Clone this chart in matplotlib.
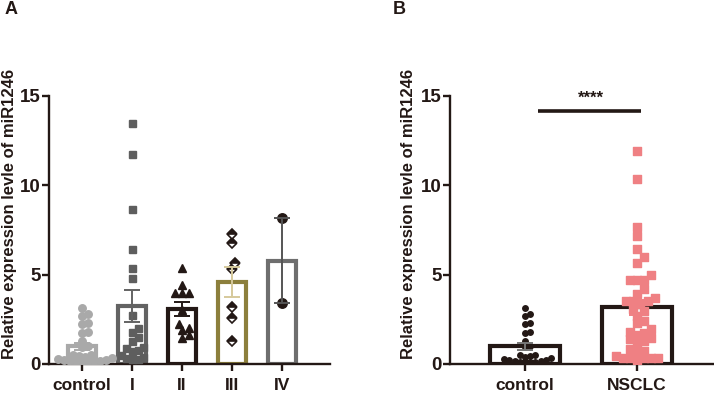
import numpy as np
import matplotlib
matplotlib.use("Agg")
import matplotlib.pyplot as plt
from matplotlib.markers import MarkerStyle

plt.rcParams["font.family"] = ["Liberation Sans", "DejaVu Sans"]
plt.rcParams["font.weight"] = "bold"

# =========================
# Data
# =========================
stage_labels = ["control", "I", "II", "III", "IV"]

control_vals = [3.16, 2.8, 2.7, 2.3, 2.25, 1.8, 1.75, 1.3, 1.0, 0.95,
                0.5, 0.5, 0.45, 0.4, 0.35, 0.3, 0.25, 0.2,
                0.15, 0.15, 0.12, 0.1, 0.1, 0.1]
stage1_vals = [13.47, 11.73, 8.66, 6.43, 5.35, 4.79, 2.74, 2.0, 1.8, 1.5,
               1.3, 0.95, 0.9, 0.8, 0.7, 0.5, 0.4, 0.35, 0.3, 0.3]
stage2_vals = [5.35, 4.4, 4.0, 4.0, 4.0, 3.0, 2.25, 2.0, 1.9, 1.6, 1.45]
stage3_vals = [7.26, 6.75, 5.63, 5.32, 3.17, 2.56, 1.31]
stage4_vals = [8.16, 3.41]

b_labels = ["control", "NSCLC"]
nsclc_vals = [11.9, 10.37, 7.66, 7.19, 6.45, 5.99, 5.67, 4.98, 4.7, 4.7, 4.7,
              4.22, 3.94, 3.72, 3.53, 3.53, 3.53, 3.35, 3.07, 2.97, 2.7, 2.42,
              2.29, 1.95, 1.8, 1.73, 1.62, 1.45, 1.39, 1.3, 1.12, 0.84, 0.74,
              0.65, 0.46, 0.32, 0.32, 0.32, 0.32, 0.32, 0.24]

DARK = "#231815"
PX = 100 / 72.0  # pixels per point at dpi 100


def mean_sem(v):
    v = np.asarray(v, dtype=float)
    return v.mean(), v.std(ddof=1) / np.sqrt(len(v))


def swarm(vals, center, xscale, yscale, d):
    # simple beeswarm: place points bottom-up, nearest free slot to center
    vals = np.asarray(vals, dtype=float)
    xs = np.zeros(len(vals))
    placed = []
    for i in np.argsort(vals):
        y = vals[i] * yscale
        off = None
        k = 0
        while off is None:
            for s in ([0] if k == 0 else [k, -k]):
                x = s * d * 0.5
                if all((x - px) ** 2 + (y - py) ** 2 >= d * d for px, py in placed):
                    off = x
                    break
            k += 1
        placed.append((off, y))
        xs[i] = center + off / xscale
    return xs


def style_axes(ax, labels):
    for s in ["top", "right"]:
        ax.spines[s].set_visible(False)
    for s in ["left", "bottom"]:
        ax.spines[s].set_linewidth(1.7)
        ax.spines[s].set_color(DARK)
    ax.set_ylim(0, 15)
    ax.set_yticks([0, 5, 10, 15])
    ax.set_xticks(range(len(labels)))
    ax.set_xticklabels(labels)
    ax.tick_params(axis="both", length=5, width=1.7, color=DARK,
                   labelcolor=DARK)
    ax.tick_params(axis="y", labelsize=13.5, pad=1)
    ax.tick_params(axis="x", labelsize=12.5, pad=5)
    for t in ax.get_xticklabels() + ax.get_yticklabels():
        t.set_fontweight("bold")


fig = plt.figure(figsize=(7.14, 3.94), dpi=100)

# =========================
# Panel A
# =========================
axA = fig.add_axes([49 / 714, 30 / 394, 281 / 714, 268 / 394])
axA.set_xlim(-0.66, 4.96)
style_axes(axA, stage_labels)

xsA = 281 / 5.62
ys = 268 / 15.0

groups_A = [
    dict(v=control_vals, bar="#a9a9a9", err="#a9a9a9", pc="#a9a9a9", mk="o", ms=7.5, kw={}),
    dict(v=stage1_vals, bar="#636363", err="#636363", pc="#5e5e5e", mk="s", ms=7, kw={}),
    dict(v=stage2_vals, bar=DARK, err=DARK, pc=DARK, mk="^", ms=8.5, kw={}),
    dict(v=stage3_vals, bar="#8c7f3c", err="#d6c99b", pc=DARK, mk="D", ms=7.5,
         kw=dict(fillstyle="top", markerfacecoloralt="white", markeredgewidth=1.2)),
    dict(v=stage4_vals, bar="#6e6e6e", err="#555555", pc=DARK, mk="o", ms=9.5, kw={}),
]

for i, g in enumerate(groups_A):
    m, se = mean_sem(g["v"])
    axA.bar(i, m, width=0.56, facecolor="none", edgecolor=g["bar"], linewidth=3.0, zorder=2)
    xs = swarm(g["v"], i, xsA, ys, g["ms"] * 0.8)
    axA.plot(xs, g["v"], linestyle="none", marker=g["mk"], markersize=g["ms"] / PX,
             color=g["pc"], markeredgecolor=g["pc"], zorder=3, **g["kw"])
    axA.errorbar(i, m, yerr=se, color=g["err"], capsize=6, elinewidth=1.4,
                 capthick=1.4, zorder=4)

# =========================
# Panel B
# =========================
axB = fig.add_axes([450 / 714, 30 / 394, 263 / 714, 268 / 394])
axB.set_xlim(-0.67, 1.68)
style_axes(axB, b_labels)
xsB = 263 / 2.35

pink = "#ef8083"
sq = MarkerStyle("s", joinstyle="round")
groups_B = [
    dict(v=control_vals, err="#777777", pc=DARK, mk="o", ms=5.5),
    dict(v=nsclc_vals, err=pink, pc=pink, mk=sq, ms=7.5),
]
for i, g in enumerate(groups_B):
    m, se = mean_sem(g["v"])
    axB.bar(i, m, width=0.62, facecolor="none", edgecolor=DARK, linewidth=3.0, zorder=2)
    xs = swarm(g["v"], i, xsB, ys, g["ms"] * 0.95)
    axB.plot(xs, g["v"], linestyle="none", marker=g["mk"], markersize=g["ms"] / PX,
             color=g["pc"], markeredgecolor=g["pc"], markeredgewidth=1.0, zorder=3)
    axB.errorbar(i, m, yerr=se, color=g["err"], capsize=6, elinewidth=1.4,
                 capthick=1.4, zorder=4)

# significance bar
axB.plot([0.12, 1.04], [14.18, 14.18], color=DARK, linewidth=2.6, solid_capstyle="butt",
         clip_on=False)
axB.text(0.59, 14.45, "****", ha="center", va="bottom", fontsize=12,
         fontweight="bold", color=DARK, clip_on=False)

# =========================
# Labels
# =========================
ylab = "Relative expression levle of miR1246"
fig.text(9.5 / 714, 1 - 214 / 394, ylab, rotation=90, ha="center", va="center",
         fontsize=12, fontweight="bold", color=DARK)
fig.text(409 / 714, 1 - 214 / 394, ylab, rotation=90, ha="center", va="center",
         fontsize=12, fontweight="bold", color=DARK)
fig.text(11 / 714, 1 - 10 / 394, "A", ha="center", va="center", fontsize=13,
         fontweight="bold", color=DARK)
fig.text(399 / 714, 1 - 10 / 394, "B", ha="center", va="center", fontsize=13,
         fontweight="bold", color=DARK)

fig.savefig("out.png", dpi=100)
